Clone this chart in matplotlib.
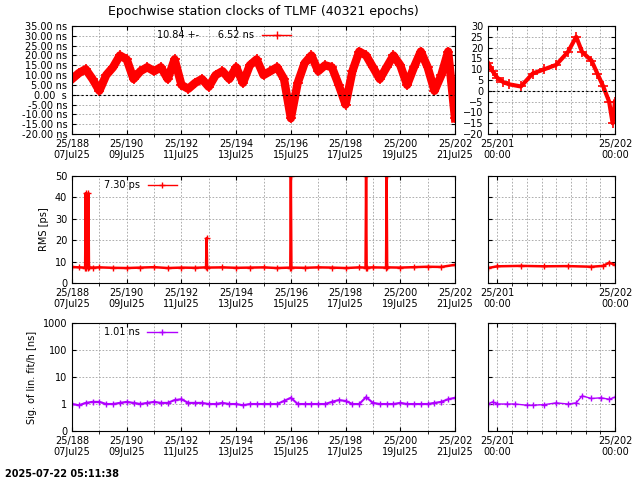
import numpy as np
import matplotlib
matplotlib.use("Agg")
import matplotlib.pyplot as plt
from matplotlib.ticker import FixedLocator, MultipleLocator, FuncFormatter

# ---- data (day of year 2025) ----
clk_day = np.arange(188.0, 202.01, 0.25)
clk_ns = [8, 11, 13, 8, 2, 10, 14, 20, 18, 8, 12, 14, 12, 14, 8, 18,
          5, 3, 6, 8, 4, 10, 12, 8, 14, 6, 15, 18, 10, 12, 14, 8,
          -12, 6, 16, 20, 12, 15, 14, 5, -5, 12, 22, 20, 14, 8, 14, 20,
          15, 5, 14, 22, 14, 2, 10, 22, -12]
zoom_day = [200.92, 200.96, 201.0, 201.05, 201.1, 201.2, 201.3, 201.4, 201.5,
            201.6, 201.67, 201.72, 201.8, 201.85, 201.9, 201.95, 201.98, 202.0]
zoom_ns = [13, 9, 6, 4, 3, 2, 8, 10, 12, 18, 25, 18, 14, 8, 2, -5, -15, -5]

rms_day = [188.0, 188.25, 188.48, 188.5, 188.52, 188.58, 188.6, 188.62, 188.75, 189.0,
           189.5, 190.0, 190.5, 191.0, 191.5, 192.0, 192.5, 192.9, 192.92, 192.94,
           193.5, 194.0, 194.5, 195.0, 195.5, 195.98, 196.0, 196.02, 196.5, 197.0,
           197.5, 198.0, 198.5, 198.73, 198.75, 198.77, 199.0, 199.48, 199.5, 199.52,
           200.0, 200.5, 201.0, 201.5, 202.0]
rms_ps = [7.5, 7.3, 7.2, 42, 7.2, 7.2, 42, 7.3, 7.2, 7.3,
          7.1, 7.0, 7.2, 7.4, 7.0, 7.2, 7.1, 7.3, 21, 7.2,
          7.3, 7.1, 7.2, 7.3, 7.0, 7.2, 50, 7.2, 7.1, 7.3,
          7.2, 7.0, 7.3, 7.2, 50, 7.2, 7.3, 7.2, 50, 7.3,
          7.2, 7.4, 7.6, 7.5, 8.5]
rms_zoom_day = [200.92, 201.0, 201.2, 201.4, 201.6, 201.8, 201.9, 201.95, 202.0]
rms_zoom_ps = [7.0, 7.8, 8.0, 7.8, 7.9, 7.6, 8.0, 9.5, 8.5]

sig_day = np.arange(188.0, 202.01, 0.25)
sig_ns = [1.0, 0.9, 1.1, 1.2, 1.2, 1.0, 1.0, 1.1, 1.2, 1.1, 1.0, 1.1, 1.2, 1.1, 1.1, 1.4,
          1.5, 1.1, 1.1, 1.1, 1.0, 1.0, 1.1, 1.0, 1.0, 0.9, 1.0, 1.0, 1.0, 1.0, 1.0, 1.3,
          1.7, 1.0, 1.0, 1.0, 1.0, 1.0, 1.2, 1.4, 1.3, 1.0, 1.0, 1.8, 1.1, 1.0, 1.0, 1.0,
          1.1, 1.0, 1.0, 1.0, 1.0, 1.1, 1.2, 1.5, 1.7]
sig_zoom_day = [200.92, 200.96, 201.0, 201.08, 201.15, 201.25, 201.3, 201.4, 201.5,
                201.6, 201.67, 201.72, 201.8, 201.88, 201.95, 202.0]
sig_zoom_ns = [1.0, 1.2, 1.0, 1.0, 1.0, 0.9, 0.9, 0.95, 1.1, 1.0, 1.1, 2.0, 1.6, 1.7, 1.5, 1.8]

main_ticks = list(range(188, 203, 2))
main_labels = ["25/%d\n%02dJul25" % (d, d - 181) for d in main_ticks]
zoom_ticks = [201, 202]
zoom_labels = ["25/201\n00:00", "25/202\n00:00"]

plt.rcParams.update({"font.family": "DejaVu Sans", "font.size": 7})
fig = plt.figure(figsize=(6.4, 4.8), dpi=100)
W, H = 640.0, 480.0


def axes_px(x0, y0, x1, y1):
    return fig.add_axes([x0 / W, 1 - y1 / H, (x1 - x0) / W, (y1 - y0) / H])


def style(ax, zoom):
    ax.grid(True, color="#a0a0a0", linestyle=(0, (2, 2)), linewidth=0.6)
    ax.tick_params(direction="in", length=3, top=True, right=True, labelsize=7)
    if zoom:
        ax.set_xlim(200.92, 202.0)
        ax.xaxis.set_major_locator(FixedLocator(zoom_ticks))
        ax.xaxis.set_minor_locator(MultipleLocator(0.125))
        ax.set_xticklabels(zoom_labels)
    else:
        ax.set_xlim(188, 202)
        ax.xaxis.set_major_locator(FixedLocator(main_ticks))
        ax.xaxis.set_minor_locator(MultipleLocator(1))
        ax.set_xticklabels(main_labels)
    ax.grid(True, which="minor", axis="x", color="#a0a0a0",
            linestyle=(0, (2, 2)), linewidth=0.6)


red = "#ff0000"
purple = "#b000ff"

# top row: clocks
ax = axes_px(72, 26, 455, 134)
ax.plot(clk_day, clk_ns, color=red, lw=6, marker="+", ms=7, mew=1.2)
ax.plot([], [], color=red, lw=1, marker="+", ms=6, label="10.84 +-      6.52 ns")
ax.axhline(0, color="black", lw=0.8, ls=(0, (2, 2)))
ax.set_ylim(-20, 35)
ax.yaxis.set_major_locator(MultipleLocator(5))
ax.yaxis.set_major_formatter(FuncFormatter(
    lambda v, p: "0.00  s" if abs(v) < 1e-9 else "%.2f ns" % v))
style(ax, False)
ax.legend(loc="upper left", bbox_to_anchor=(0.2, 1.04), frameon=False,
          markerfirst=False, handlelength=3, fontsize=7)
ax.set_title("Epochwise station clocks of TLMF (40321 epochs)", fontsize=9, pad=8)

ax = axes_px(488, 26, 615, 134)
ax.plot(zoom_day, zoom_ns, color=red, lw=3, marker="+", ms=7, mew=1.2)
ax.axhline(0, color="black", lw=0.8, ls=(0, (2, 2)))
ax.set_ylim(-20, 30)
ax.yaxis.set_major_locator(MultipleLocator(5))
style(ax, True)

# middle row: RMS
ax = axes_px(72, 176, 455, 283)
ax.plot(rms_day, rms_ps, color=red, lw=1.8, marker="+", ms=5)
ax.plot([], [], color=red, lw=1, marker="+", ms=5, label="7.30 ps")
ax.set_ylim(0, 50)
ax.yaxis.set_major_locator(MultipleLocator(10))
ax.set_ylabel("RMS [ps]", fontsize=7)
style(ax, False)
ax.legend(loc="upper left", bbox_to_anchor=(0.06, 1.04), frameon=False,
          markerfirst=False, handlelength=3, fontsize=7)

ax = axes_px(488, 176, 615, 283)
ax.plot(rms_zoom_day, rms_zoom_ps, color=red, lw=1.8, marker="+", ms=5)
ax.set_ylim(0, 50)
ax.yaxis.set_major_locator(MultipleLocator(10))
ax.set_yticklabels([])
style(ax, True)

# bottom row: sigma of linear fit
ax = axes_px(72, 323, 455, 431)
ax.plot(sig_day, sig_ns, color=purple, lw=1.5, marker="+", ms=5)
ax.plot([], [], color=purple, lw=1, marker="+", ms=5, label="1.01 ns")
ax.set_yscale("log")
ax.set_ylim(0.1, 1000)
ax.yaxis.set_major_locator(FixedLocator([0.1, 1, 10, 100, 1000]))
ax.yaxis.set_major_formatter(FuncFormatter(lambda v, p: "%.0f" % v))
ax.yaxis.set_minor_locator(FixedLocator([]))
ax.set_ylabel("Sig. of lin. fit/h [ns]", fontsize=7)
style(ax, False)
ax.legend(loc="upper left", bbox_to_anchor=(0.06, 1.04), frameon=False,
          markerfirst=False, handlelength=3, fontsize=7)

ax = axes_px(488, 323, 615, 431)
ax.plot(sig_zoom_day, sig_zoom_ns, color=purple, lw=1, marker="+", ms=5)
ax.set_yscale("log")
ax.set_ylim(0.1, 1000)
ax.yaxis.set_major_locator(FixedLocator([0.1, 1, 10, 100, 1000]))
ax.yaxis.set_minor_locator(FixedLocator([]))
ax.set_yticklabels([])
style(ax, True)

fig.text(5 / W, 1 - 474 / H, "2025-07-22 05:11:38", fontsize=7,
         fontweight="bold", va="center")

fig.savefig("out.png", dpi=100)
